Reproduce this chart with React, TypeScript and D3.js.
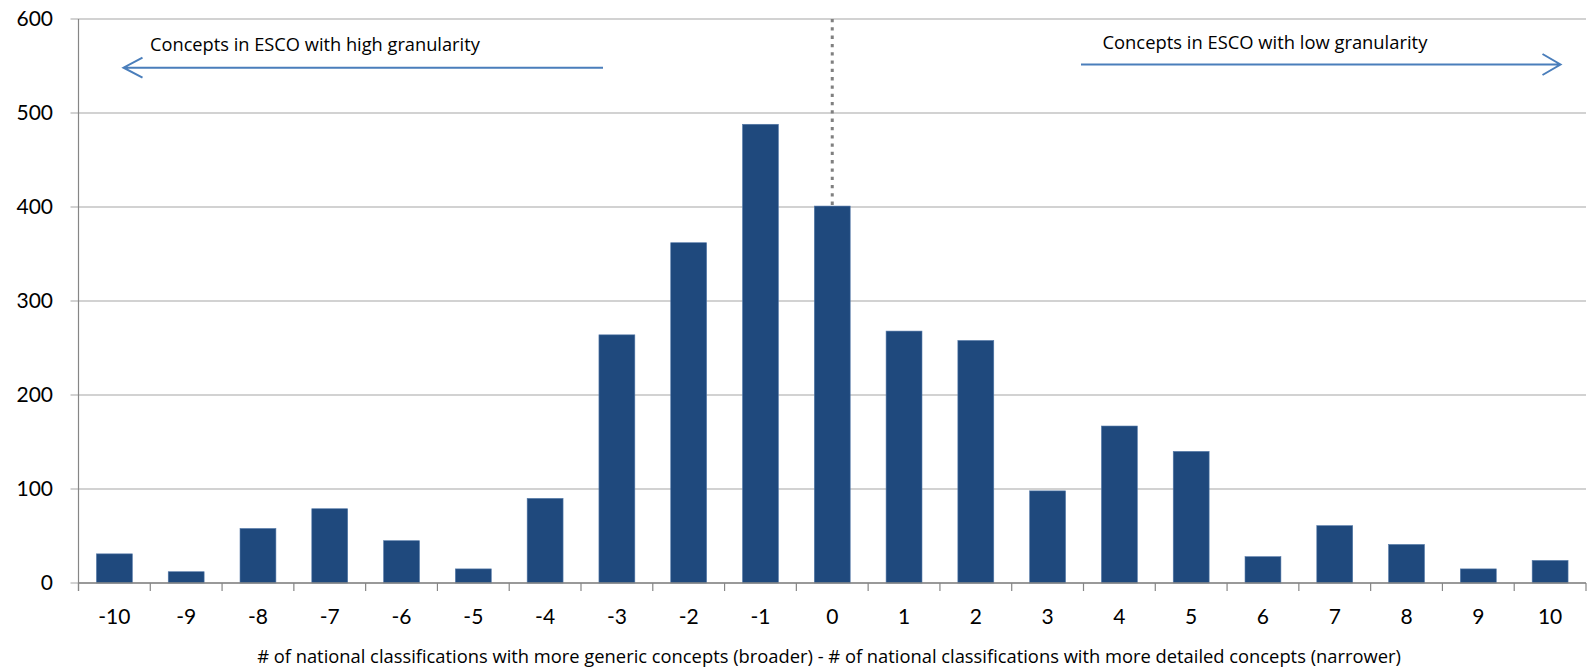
import React, { useEffect, useRef } from "react";
import * as d3 from "d3";

const categories: number[] = [-10, -9, -8, -7, -6, -5, -4, -3, -2, -1, 0, 1, 2, 3, 4, 5, 6, 7, 8, 9, 10];
const counts: number[] = [31, 12, 58, 79, 45, 15, 90, 264, 362, 488, 401, 268, 258, 98, 167, 140, 28, 61, 41, 15, 24];
const yTicks: number[] = [0, 100, 200, 300, 400, 500, 600];
const leftNote = "Concepts in ESCO with high granularity";
const rightNote = "Concepts in ESCO with low granularity";
const xTitle =
  "# of national classifications with more generic concepts (broader) - # of national classifications with more detailed concepts (narrower)";

const W = 1592;
const H = 669;
const M = { left: 78.5, right: 1586, top: 19, bottom: 583 };
const FONT = "Lato, 'Open Sans', sans-serif";
const TFONT = "'Open Sans', sans-serif";

function fitText(sel: d3.Selection<SVGTextElement, unknown, null, undefined>, target: number, base: number) {
  sel.attr("font-size", base);
  const node = sel.node();
  if (node) {
    const len = node.getComputedTextLength();
    if (len > 0) sel.attr("font-size", (base * target) / len);
  }
}

export default function App() {
  const ref = useRef<SVGSVGElement>(null);

  useEffect(() => {
    const svg = d3.select(ref.current);
    svg.selectAll("*").remove();

    const x = d3
      .scaleBand<number>()
      .domain(categories)
      .range([M.left, M.right])
      .paddingInner(0.5)
      .paddingOuter(0.25);
    const step = (M.right - M.left) / categories.length;
    const y = d3.scaleLinear().domain([0, 600]).range([M.bottom, M.top]);

    svg
      .append("g")
      .selectAll("line")
      .data(yTicks)
      .join("line")
      .attr("x1", M.left - 8)
      .attr("x2", M.right)
      .attr("y1", (d) => y(d))
      .attr("y2", (d) => y(d))
      .attr("stroke", "#a6a6a6")
      .attr("stroke-width", 1.2);

    svg
      .append("g")
      .selectAll("text")
      .data(yTicks)
      .join("text")
      .attr("x", 53)
      .attr("y", (d) => y(d) + 7)
      .attr("text-anchor", "end")
      .attr("font-family", FONT)
      .attr("font-size", 21)
      .attr("fill", "#000")
      .text((d) => d);

    svg
      .append("g")
      .selectAll("rect")
      .data(categories)
      .join("rect")
      .attr("x", (d) => x(d)!)
      .attr("width", x.bandwidth())
      .attr("y", (d, i) => y(counts[i]))
      .attr("height", (d, i) => y(0) - y(counts[i]))
      .attr("fill", "#1f497d")
      .attr("stroke", "#5479a8")
      .attr("stroke-width", 0.6);

    const i0 = categories.indexOf(0);
    svg
      .append("line")
      .attr("x1", x(0)! + x.bandwidth() / 2)
      .attr("x2", x(0)! + x.bandwidth() / 2)
      .attr("y1", y(600))
      .attr("y2", y(counts[i0]))
      .attr("stroke", "#808080")
      .attr("stroke-width", 3)
      .attr("stroke-dasharray", "3.3 5");

    svg
      .append("line")
      .attr("x1", M.left)
      .attr("x2", M.left)
      .attr("y1", M.top)
      .attr("y2", M.bottom + 8)
      .attr("stroke", "#868686")
      .attr("stroke-width", 1.2);

    svg
      .append("line")
      .attr("x1", M.left)
      .attr("x2", M.right)
      .attr("y1", M.bottom)
      .attr("y2", M.bottom)
      .attr("stroke", "#868686")
      .attr("stroke-width", 1.4);

    const bounds = d3.range(categories.length + 1).map((i) => M.left + i * step);
    svg
      .append("g")
      .selectAll("line")
      .data(bounds)
      .join("line")
      .attr("x1", (d) => d)
      .attr("x2", (d) => d)
      .attr("y1", M.bottom)
      .attr("y2", M.bottom + 8)
      .attr("stroke", "#868686")
      .attr("stroke-width", 1.2);

    svg
      .append("g")
      .selectAll("text")
      .data(categories)
      .join("text")
      .attr("x", (d) => x(d)! + x.bandwidth() / 2)
      .attr("y", 624)
      .attr("text-anchor", "middle")
      .attr("font-family", FONT)
      .attr("font-size", 21)
      .attr("fill", "#000")
      .text((d) => d);

    const title = svg
      .append("text")
      .attr("x", 829)
      .attr("y", 663)
      .attr("text-anchor", "middle")
      .attr("font-family", TFONT)
      .attr("fill", "#000")
      .text(xTitle);
    fitText(title, 1144, 17);

    const blue = "#4a7ebb";
    const ln = svg
      .append("text")
      .attr("x", 150)
      .attr("y", 51)
      .attr("font-family", TFONT)
      .attr("fill", "#000")
      .text(leftNote);
    fitText(ln, 330, 17);
    const rn = svg
      .append("text")
      .attr("x", 1102.5)
      .attr("y", 49)
      .attr("font-family", TFONT)
      .attr("fill", "#000")
      .text(rightNote);
    fitText(rn, 325, 17);

    const la = 67.7;
    svg
      .append("path")
      .attr("d", `M603,${la} L123.5,${la} M142.5,${la - 10} L123.5,${la} L142.5,${la + 10}`)
      .attr("fill", "none")
      .attr("stroke", blue)
      .attr("stroke-width", 2);
    const ra = 64.5;
    svg
      .append("path")
      .attr("d", `M1081,${ra} L1560.5,${ra} M1542.5,${ra - 10.5} L1560.5,${ra} L1542.5,${ra + 10.5}`)
      .attr("fill", "none")
      .attr("stroke", blue)
      .attr("stroke-width", 2);
  }, []);

  return (
    <svg
      ref={ref}
      width={W}
      height={H}
      style={{ position: "absolute", left: 0, top: 0, background: "#fff" }}
    />
  );
}
